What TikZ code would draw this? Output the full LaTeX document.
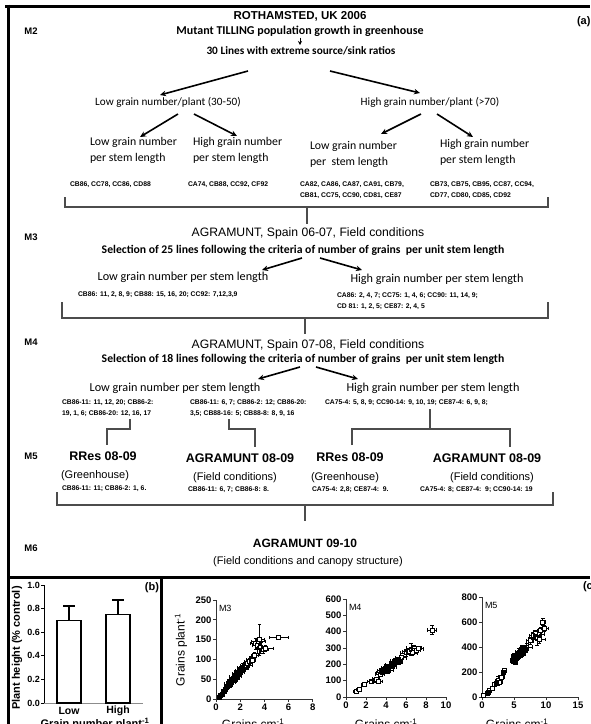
\documentclass[tikz,border=0pt]{standalone}
\usepackage{fontspec}
\setmainfont{Carlito}
\newfontfamily\arialf{Liberation Sans}
\usetikzlibrary{arrows.meta,calc}
\newcommand\errpt[5][sqm]{%
  \draw[ebar] ({#2-#4},#3) -- ({#2+#4},#3);
  \draw[ebar] (#2,{#3-#5}) -- (#2,{#3+#5});
  \draw[#1] ($(#2,#3)+(-2pt,-2pt)$) rectangle ++(4pt,4pt);}
\tikzset{
  every node/.style={inner sep=0pt, outer sep=0pt, text=black},
  frame/.style={line width=3pt, black},
  ttl/.style={font=\arialf\bfseries\fontsize{11.5}{13}\selectfont},
  mlab/.style={font=\arialf\bfseries\fontsize{9.5}{11}\selectfont},
  cbold/.style={font=\bfseries\fontsize{12}{14}\selectfont},
  cbold2/.style={font=\bfseries\fontsize{11.3}{13}\selectfont},
  cbsel/.style={font=\bfseries\fontsize{11.7}{13}\selectfont},
  creg/.style={font=\fontsize{11.8}{16}\selectfont, align=left},
  creg1/.style={font=\fontsize{11.2}{14}\selectfont},
  creg2/.style={font=\fontsize{12.2}{15}\selectfont},
  arhead/.style={font=\arialf\fontsize{12.2}{14}\selectfont},
  idtxt/.style={font=\arialf\bfseries\fontsize{6.8}{10.5}\selectfont, align=left},
  m5head/.style={font=\arialf\bfseries\fontsize{12.5}{14}\selectfont},
  m5sub/.style={font=\arialf\fontsize{11}{13}\selectfont},
  bigarr/.style={line width=1.6pt, -{Stealth[length=6pt,width=5.5pt]}},
  smallarr/.style={line width=1pt, -{Stealth[length=4pt,width=4pt]}},
  brk/.style={line width=1.1pt, black!70},
  axb/.style={line width=1pt, black},
  barst/.style={line width=1.2pt, black, fill=white},
  tkb/.style={font=\arialf\bfseries\fontsize{9}{10}\selectfont},
  tkc/.style={font=\arialf\bfseries\fontsize{9.5}{10}\selectfont},
  axc/.style={line width=0.9pt, black!80},
  ebar/.style={line width=0.8pt, black, {Bar[width=3.5pt]}-{Bar[width=3.5pt]}},
  sqm/.style={line width=0.9pt, draw=black, fill=white},
  sqf/.style={line width=0.9pt, draw=black, fill=black},
  alab/.style={font=\arialf\bfseries\fontsize{11}{13}\selectfont},
  axtitle/.style={font=\arialf\fontsize{12}{14}\selectfont},
}
\begin{document}
\begin{tikzpicture}[x=1pt,y=-1pt]
\clip (0,0) rectangle (590,724);
\fill[white] (0,0) rectangle (590,724);

% ---------- frame
\draw[frame] (5,6) -- (590,6);
\draw[frame] (8.5,4.5) -- (8.5,724);
\draw[frame] (7,577) -- (590,577);
\draw[frame] (161.5,577) -- (161.5,724);

% ---------- panel a, M2
\node[ttl] (roth) at (300,16) {ROTHAMSTED, UK 2006};
\node[alab, anchor=west] (pa) at (577,22) {(a)};
\node[mlab] (m2) at (31,31) {M2};
\node[cbold] (mutant) at (300,31) {Mutant TILLING population growth in greenhouse};
\node[cbold2] (lines30) at (301,51) {30 Lines with extreme source/sink ratios};
\coordinate (sa1) at (300,37.5);
\coordinate (sa2) at (300,45);
\draw[smallarr] (sa1) -- (sa2);

\node[creg1] (lowpp) at (168,102) {Low grain number/plant (30-50)};
\node[creg1] (highpp) at (430,102) {High grain number/plant (>70)};
\coordinate (a1s) at (248,71); \coordinate (a1e) at (160,95);
\coordinate (a2s) at (330,71); \coordinate (a2e) at (420,93);
\draw[bigarr] (a1s) -- (a1e);
\draw[bigarr] (a2s) -- (a2e);

\node[creg, anchor=west] (s1) at (90,150) {Low grain number\\per stem length};
\node[creg, anchor=west] (s2) at (193,150) {High grain number\\per stem length};
\node[creg, anchor=west] (s3) at (310,154) {Low grain number\\per\ \ stem length};
\node[creg, anchor=west] (s4) at (440,152) {High grain number\\per stem length};
\coordinate (b1s) at (178,114); \coordinate (b1e) at (140,137);
\coordinate (b2s) at (194,114); \coordinate (b2e) at (237,136);
\coordinate (b3s) at (421,114); \coordinate (b3e) at (381,134);
\coordinate (b4s) at (437,114); \coordinate (b4e) at (473,137);
\draw[bigarr] (b1s) -- (b1e);
\draw[bigarr] (b2s) -- (b2e);
\draw[bigarr] (b3s) -- (b3e);
\draw[bigarr] (b4s) -- (b4e);

\node[idtxt, anchor=west] (id1) at (70,185) {CB86, CC78, CC86, CD88};
\node[idtxt, anchor=west] (id2) at (188,185) {CA74, CB88, CC92, CF92};
\node[idtxt, anchor=west] (id3) at (300,190) {CA82, CA86, CA87, CA91, CB79,\\CB81, CC75, CC90, CD81, CE87};
\node[idtxt, anchor=west] (id4) at (430,190) {CB73, CB75, CB95, CC87, CC94,\\CD77, CD80, CD85, CD92};

\coordinate (k1l) at (65,197); \coordinate (k1r) at (548,197);
\coordinate (k1c) at (307,207); \coordinate (k1d) at (307,224);
\draw[brk] (k1l) -- (k1l|-k1c) -- (k1r|-k1c) -- (k1r);
\draw[brk] (k1c) -- (k1d);

% ---------- M3
\node[mlab] (m3) at (31,237) {M3};
\node[arhead] (m3head) at (308,233) {AGRAMUNT, Spain 06-07, Field conditions};
\node[cbsel] (m3sel) at (303,250) {Selection of 25 lines following the criteria of number of grains\ \ per unit stem length};
\coordinate (c1s) at (302,258); \coordinate (c1e) at (262,270);
\coordinate (c2s) at (320,258); \coordinate (c2e) at (362,270);
\draw[bigarr] (c1s) -- (c1e);
\draw[bigarr] (c2s) -- (c2e);
\node[creg2] (m3low) at (183,277) {Low grain number per stem length};
\node[creg2] (m3high) at (437,279) {High grain number per stem length};
\node[idtxt, anchor=west] (m3id1) at (78,295) {CB86: 11, 2, 8, 9; CB88: 15, 16, 20; CC92: 7,12,3,9};
\node[idtxt, anchor=west] (m3id2) at (337,301) {CA86: 2, 4, 7; CC75: 1, 4, 6; CC90: 11, 14, 9;\\CD 81: 1, 2, 5; CE87: 2, 4, 5};
\coordinate (k2l) at (62,302); \coordinate (k2r) at (548,302);
\coordinate (k2c) at (305,318); \coordinate (k2d) at (305,334);
\draw[brk] (k2l) -- (k2l|-k2c) -- (k2r|-k2c) -- (k2r);
\draw[brk] (k2c) -- (k2d);

% ---------- M4
\node[mlab] (m4) at (31,342) {M4};
\node[arhead] (m4head) at (308,345) {AGRAMUNT, Spain 07-08, Field conditions};
\node[cbsel] (m4sel) at (303,359) {Selection of 18 lines following the criteria of number of grains\ \ per unit stem length};
\coordinate (d1s) at (300,367); \coordinate (d1e) at (258,379);
\coordinate (d2s) at (316,367); \coordinate (d2e) at (358,379);
\draw[bigarr] (d1s) -- (d1e);
\draw[bigarr] (d2s) -- (d2e);
\node[creg2] (m4low) at (175,388) {Low grain number per stem length};
\node[creg2] (m4high) at (433,388) {High grain number per stem length};
\node[idtxt, anchor=west] (m4id1) at (62,408) {CB86-11: 11, 12, 20; CB86-2:\\19, 1, 6; CB86-20: 12, 16, 17};
\node[idtxt, anchor=west] (m4id2) at (190,408) {CB86-11: 6, 7; CB86-2: 12; CB86-20:\\3,5; CB88-16: 5; CB88-8: 8, 9, 16};
\node[idtxt, anchor=west] (m4id3) at (325,403) {CA75-4: 5, 8, 9; CC90-14: 9, 10, 19; CE87-4: 6, 9, 8;};

% connectors M4 -> M5
\coordinate (e1a) at (130,419); \coordinate (e1b) at (107,429); \coordinate (e1c) at (107,445);
\draw[brk] (e1a) |- (e1b) -- (e1c);
\coordinate (e2a) at (229,419); \coordinate (e2b) at (255,429); \coordinate (e2c) at (255,447);
\draw[brk] (e2a) |- (e2b) -- (e2c);
\coordinate (e3a) at (430,409); \coordinate (e3m) at (430,429);
\coordinate (e3l) at (352,445); \coordinate (e3r) at (510,447);
\draw[brk] (e3a) -- (e3m);
\draw[brk] (e3l) |- (e3m) -| (e3r);

% ---------- M5
\node[mlab] (m5) at (31,456) {M5};
\node[m5head] (rres1) at (103,456) {RRes 08-09};
\node[m5head] (agr1) at (240,458) {AGRAMUNT 08-09};
\node[m5head] (rres2) at (350,457) {RRes 08-09};
\node[m5head] (agr2) at (487,458) {AGRAMUNT 08-09};
\node[m5sub] (gh1) at (95,476) {(Greenhouse)};
\node[m5sub] (fc1) at (235,478) {(Field conditions)};
\node[m5sub] (gh2) at (345,478) {(Greenhouse)};
\node[m5sub] (fc2) at (492,478) {(Field conditions)};
\node[idtxt, anchor=west] (m5id1) at (62,489) {CB86-11: 11; CB86-2: 1, 6.};
\node[idtxt, anchor=west] (m5id2) at (188,490) {CB86-11: 6, 7; CB86-8: 8.};
\node[idtxt, anchor=west] (m5id3) at (312,490) {CA75-4: 2,8; CE87-4:\ \ 9.};
\node[idtxt, anchor=west] (m5id4) at (420,490) {CA75-4: 8; CE87-4:\ \ 9; CC90-14: 19};
\coordinate (k3l) at (57,492); \coordinate (k3r) at (553,492);
\coordinate (k3c) at (305,505); \coordinate (k3d) at (305,521);
\draw[brk] (k3l) -- (k3l|-k3c) -- (k3r|-k3c) -- (k3r);
\draw[brk] (k3c) -- (k3d);

% ---------- M6
\node[mlab] (m6) at (31,548) {M6};
\node[m5head, font=\arialf\bfseries\fontsize{12}{14}\selectfont] (agr3) at (305,543) {AGRAMUNT 09-10};
\node[m5sub] (canopy) at (308,562) {(Field conditions and canopy structure)};

% ---------- panel b
\node[alab] (pb) at (152,588) {(b)};
\draw[axb] (44,585) -- (44,703);
\foreach \v/\yy [count=\i] in {0.0/703,0.2/679.4,0.4/655.8,0.6/632.2,0.8/608.6,1.0/585}{
  \draw[axb] (41,\yy) -- (44,\yy);
  \node[tkb, anchor=east] (by\i) at (40,\yy) {\v};
}
\draw[line width=1pt, black!45] (44,703) -- (143,703);
\draw[barst] (57,703) rectangle (81,620.4);
\draw[barst] (69,620.4) -- (69,606) (63,606) -- (75,606);
\draw[barst] (106,703) rectangle (130,614.5);
\draw[barst] (118,614.5) -- (118,600) (112,600) -- (124,600);
\node[tkb, font=\arialf\bfseries\fontsize{10.5}{12}\selectfont] (blow) at (69,711) {Low};
\node[tkb, font=\arialf\bfseries\fontsize{10.5}{12}\selectfont] (bhigh) at (118,711) {High};
\node[font=\arialf\bfseries\fontsize{11}{12}\selectfont] (bxt) at (95,724) {Grain number plant\textsuperscript{-1}};
\node[font=\arialf\bfseries\fontsize{11}{12}\selectfont, rotate=90] (byt) at (17,648) {Plant height (\% control)};

% ---------- panel c
\node[alab, anchor=west] (pc) at (583,587) {(c)};
\node[axtitle, rotate=90] (cyt) at (181,650) {Grains plant\textsuperscript{-1}};
\node[axtitle] (cx1) at (262,725) {Grains cm\textsuperscript{-1}\textsubscript{stem}};
\node[axtitle] (cx2) at (395,725) {Grains cm\textsuperscript{-1}\textsubscript{stem}};
\node[axtitle] (cx3) at (526,725) {Grains cm\textsuperscript{-1}\textsubscript{stem}};

% M3 plot
\begin{scope}[shift={(216,699)}, x=12.1pt, y=0.396pt]
  \draw[axc] (0,0) -- (0,250);
  \draw[axc] (0,0) -- (8,0);
  \foreach \v in {0,50,...,250}{
    \draw[axc] (0,\v) -- ++(-3pt,0);
    \node[tkc, anchor=east] (p3y\v) at ($(0,\v)+(-4.5pt,0)$) {\v};}
  \foreach \v in {0,2,...,8}{
    \draw[axc] (\v,0) -- ++(0,-3pt);
    \node[tkc, anchor=north] (p3x\v) at ($(\v,0)+(0,-5pt)$) {\v};}
  \node[font=\arialf\fontsize{9}{10}\selectfont, anchor=west] (p3t) at ($(0,250)+(3pt,-8pt)$) {M3};
  \foreach \a/\b/\c/\d in {0.3/5/0.1/3, 0.4/8/0.1/3, 0.5/12/0.15/4, 0.6/18/0.1/5, 0.7/20/0.2/5, 0.8/25/0.2/6, 0.9/30/0.2/5, 1.0/38/0.3/8, 1.1/35/0.25/6, 1.2/45/0.3/8, 1.3/42/0.3/6, 1.4/50/0.3/7, 1.5/48/0.3/8, 1.5/55/0.4/10, 1.6/60/0.3/8, 1.7/65/0.35/9, 1.75/62/0.3/8, 1.8/58/0.3/10, 1.9/70/0.4/12, 2.0/72/0.4/10, 2.05/68/0.3/8, 2.1/75/0.3/8, 2.2/80/0.5/12, 2.3/78/0.4/10, 2.4/82/0.4/8}{
    \errpt[sqf]{\a}{\b}{\c}{\d}}
  \foreach \a/\b/\c/\d in {2.5/85/0.5/10, 2.6/90/0.4/8, 2.75/95/0.4/8, 2.9/100/0.4/8, 3.0/98/0.3/6, 3.2/110/0.3/8, 3.3/140/0.5/15, 3.4/135/0.4/20, 3.5/145/0.6/12, 3.6/150/0.4/40, 3.7/130/0.5/15, 3.9/125/0.5/10, 4.1/128/0.7/8, 5.2/155/0.8/5}{
    \errpt{\a}{\b}{\c}{\d}}
\end{scope}

% M4 plot
\begin{scope}[shift={(346,697)}, x=10pt, y=0.1633pt]
  \draw[axc] (0,0) -- (0,600);
  \draw[axc] (0,0) -- (10,0);
  \foreach \v in {0,100,...,600}{
    \draw[axc] (0,\v) -- ++(-3pt,0);
    \node[tkc, anchor=east] (p4y\v) at ($(0,\v)+(-4.5pt,0)$) {\v};}
  \foreach \v in {0,2,...,10}{
    \draw[axc] (\v,0) -- ++(0,-3pt);
    \node[tkc, anchor=north] (p4x\v) at ($(\v,0)+(0,-5pt)$) {\v};}
  \node[font=\arialf\fontsize{9}{10}\selectfont, anchor=west] (p4t) at ($(0,600)+(3pt,-8pt)$) {M4};
  \foreach \a/\b/\c/\d in {1.0/35/0.3/10, 1.3/45/0.3/8, 1.8/75/0.3/8, 2.5/95/0.4/10, 2.8/100/0.5/12, 3.0/110/0.4/10, 3.2/95/0.5/15, 3.4/140/0.5/15, 3.6/150/0.6/15, 5.5/240/0.6/20, 6.0/270/0.6/25, 6.3/280/0.7/20, 6.5/290/0.5/40, 6.6/270/0.6/20, 6.8/300/0.8/20, 7.0/285/0.5/15, 7.2/295/0.6/15, 8.6/410/0.5/30}{
    \errpt{\a}{\b}{\c}{\d}}
  \foreach \a/\b/\c/\d in {3.5/160/0.4/20, 3.8/160/0.4/15, 3.9/170/0.4/20, 4.0/180/0.5/15, 4.1/175/0.4/15, 4.2/165/0.6/20, 4.3/190/0.5/15, 4.4/185/0.4/15, 4.5/200/0.6/20, 4.6/185/0.5/15, 4.7/205/0.4/15, 4.8/210/0.5/20, 5.0/220/0.6/20, 5.2/230/0.5/15, 5.3/215/0.4/15}{
    \errpt[sqf]{\a}{\b}{\c}{\d}}
\end{scope}

% M5 plot
\begin{scope}[shift={(482,697)}, x=6.4pt, y=0.125pt]
  \draw[axc] (0,0) -- (0,800);
  \draw[axc] (0,0) -- (15,0);
  \foreach \v in {0,200,...,800}{
    \draw[axc] (0,\v) -- ++(-3pt,0);
    \node[tkc, anchor=east] (p5y\v) at ($(0,\v)+(-4.5pt,0)$) {\v};}
  \foreach \v in {0,5,...,15}{
    \draw[axc] (\v,0) -- ++(0,-3pt);
    \node[tkc, anchor=north] (p5x\v) at ($(\v,0)+(0,-5pt)$) {\v};}
  \node[font=\arialf\fontsize{9}{10}\selectfont, anchor=west] (p5t) at ($(0,800)+(3pt,-8pt)$) {M5};
  \foreach \a/\b/\c/\d in {0.3/10/0.2/8, 0.8/30/0.3/10, 1.2/50/0.3/12, 1.6/70/0.4/15, 2.0/100/0.4/15, 2.5/130/0.5/40, 2.8/120/0.4/20, 3.0/160/0.5/20, 3.5/210/0.4/15, 7.0/400/1.0/30, 7.5/450/0.6/30, 8.0/490/0.7/30, 8.3/510/0.6/30, 8.6/470/0.8/60, 9.0/500/0.8/40, 9.2/530/0.6/30, 9.5/600/0.5/30, 9.8/550/0.6/25, 8.9/460/1.0/35}{
    \errpt{\a}{\b}{\c}{\d}}
  \foreach \a/\b/\c/\d in {1.0/40/0.2/8, 2.2/110/0.3/10, 3.4/200/0.3/10, 4.8/290/0.5/25, 5.0/310/0.5/20, 5.1/330/0.6/25, 5.3/300/0.4/20, 5.5/340/0.6/25, 5.6/320/0.5/20, 5.8/360/0.6/30, 6.0/350/0.5/25, 6.2/380/0.6/25, 6.4/370/0.7/30, 6.6/390/0.6/30, 6.8/380/0.5/25, 5.2/280/0.4/20, 5.9/330/0.5/20, 6.3/345/0.5/20, 5.4/310/0.4/20, 5.7/345/0.4/20, 6.1/365/0.5/20, 6.5/395/0.5/25}{
    \errpt[sqf]{\a}{\b}{\c}{\d}}
\end{scope}
\end{tikzpicture}
\end{document}
